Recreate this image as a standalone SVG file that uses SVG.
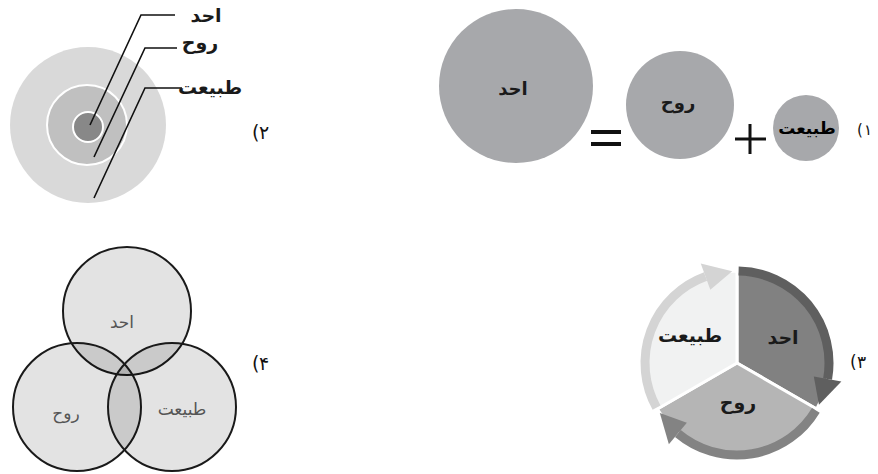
<svg xmlns="http://www.w3.org/2000/svg" width="878" height="474" viewBox="0 0 878 474">
<style>
text{font-family:"DejaVu Sans","Noto Sans",sans-serif;text-anchor:middle}
.b{font-weight:bold;fill:#1a1a1a;font-size:18px}
.v{fill:#555;font-size:17px}
.lab{fill:#111;font-size:16px;text-anchor:start;direction:ltr;unicode-bidi:normal}
.ld{fill:none;stroke:#111;stroke-width:1.6}
.ven{fill:#000;fill-opacity:0.11;stroke:#1a1a1a;stroke-width:2}
.g1{fill:#a7a8ab}
</style>
<rect width="878" height="474" fill="#fff"/>

<!-- Diagram 1 -->
<g id="d1-ahad"><circle class="g1" cx="516" cy="86" r="77"/><text class="b" x="513" y="95">احد</text></g>
<g id="d1-eq"><rect x="591" y="130" width="30" height="4" fill="#111"/><rect x="591" y="142" width="30" height="4" fill="#111"/></g>
<g id="d1-ruh"><circle class="g1" cx="680" cy="105" r="54"/><text class="b" x="678" y="109">روح</text></g>
<g id="d1-plus"><path d="M750 124V154M735 139H766" stroke="#111" stroke-width="3" fill="none"/></g>
<g id="d1-tabiat"><circle class="g1" cx="806" cy="128" r="33"/><text class="b" x="807" y="134" style="fill:#000;font-size:17px">طبیعت</text></g>
<text class="lab" y="135" style="font-size:15px"><tspan x="857">(</tspan><tspan x="864">۱</tspan></text>

<!-- Diagram 2 -->
<g id="d2-outer"><circle cx="88" cy="125" r="78" fill="#d9d9d9"/></g>
<g id="d2-mid"><circle cx="87" cy="125" r="40" fill="#c0c0c0" stroke="#fff" stroke-width="2"/></g>
<g id="d2-inner"><circle cx="88" cy="127" r="15" fill="#888" stroke="#fff" stroke-width="2"/></g>
<g id="d2-connectors">
<path class="ld" d="M90 125L141 15H175"/>
<path class="ld" d="M94 157L145 48H177"/>
<path class="ld" d="M94 198L145 88H182"/>
</g>
<g id="d2-labels">
<text class="b" x="206" y="22" style="font-size:19px">احد</text>
<text class="b" x="200" y="49" style="font-size:19px">روح</text>
<text class="b" x="210" y="94" style="font-size:19px">طبیعت</text>
</g>
<text class="lab" y="139" style="font-size:19px"><tspan x="252">(</tspan><tspan x="259">۲</tspan></text>

<!-- Diagram 4 (Venn) -->
<g id="v-ahad"><circle class="ven" cx="127" cy="311" r="64"/><text class="v" x="122" y="328">احد</text></g>
<g id="v-ruh"><circle class="ven" cx="77" cy="407" r="64"/><text class="v" x="66" y="419">روح</text></g>
<g id="v-tabiat"><circle class="ven" cx="172" cy="407" r="64"/><text class="v" x="182" y="415">طبیعت</text></g>
<text class="lab" y="370" style="font-size:19px"><tspan x="252">(</tspan><tspan x="259">۴</tspan></text>

<!-- Diagram 3 (cycle) -->
<g id="c-ahad">
<path d="M737 363L737 271A92 92 0 0 1 816.67 409Z" fill="#818181" stroke="#fff" stroke-width="3" stroke-linejoin="round"/>
<text class="b" x="783" y="344" style="font-size:19px">احد</text>
</g>
<g id="c-ruh">
<path d="M737 363L816.67 409A92 92 0 0 1 657.33 409Z" fill="#b5b5b5" stroke="#fff" stroke-width="3" stroke-linejoin="round"/>
<text class="b" x="738" y="409" style="font-size:19px">روح</text>
</g>
<g id="c-tabiat">
<path d="M737 363L657.33 409A92 92 0 0 1 737 271Z" fill="#f1f2f2" stroke="#fff" stroke-width="3" stroke-linejoin="round"/>
<text class="b" x="690" y="342" style="font-size:19px">طبیعت</text>
</g>
<g id="c-arrows">
<path d="M656.54 407.6A92 92 0 0 1 705.53 276.55" fill="none" stroke="#d4d4d4" stroke-width="9"/>
<path d="M710.32 289.7L700.75 263.39L732.18 271.13Z" fill="#d4d4d4"/>
<path d="M738.61 271.01A92 92 0 0 1 827.6 378.98" fill="none" stroke="#5f5f5f" stroke-width="9"/>
<path d="M813.82 376.54L841.39 381.41L818.97 404.77Z" fill="#5f5f5f"/>
<path d="M815.86 410.38A92 92 0 0 1 677.86 433.48" fill="none" stroke="#838383" stroke-width="9"/>
<path d="M686.86 422.75L668.86 444.2L659.84 413.11Z" fill="#838383"/>
</g>
<text class="lab" y="368" style="font-size:17px"><tspan x="850">(</tspan><tspan x="857">۳</tspan></text>
</svg>
